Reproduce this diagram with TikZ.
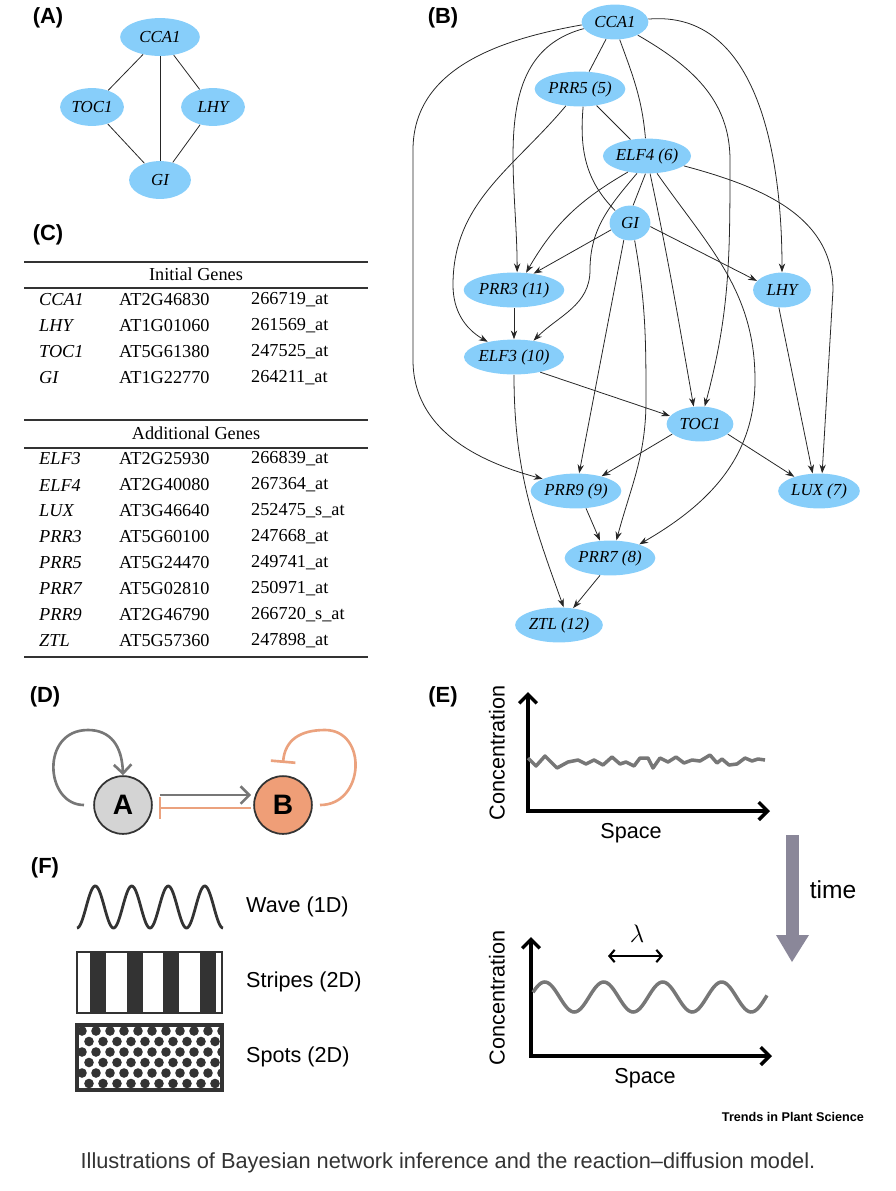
\documentclass[tikz,border=0pt]{standalone}
\usepackage{fontspec}
\setmainfont{Liberation Serif}
\setsansfont{Liberation Sans}
\usepackage{xcolor}
\usetikzlibrary{arrows.meta, calc, shapes.geometric}
\definecolor{genefill}{HTML}{87CEFA}
\definecolor{actgray}{HTML}{777777}
\definecolor{inhorange}{HTML}{EBA27E}
\definecolor{bfill}{HTML}{EF9E77}
\definecolor{afill}{HTML}{D4D4D4}
\definecolor{timearrow}{HTML}{8A8799}
\newlength{\pxu}
\setlength{\pxu}{0.567pt}
\tikzset{
  gene/.style={ellipse, fill=genefill, inner sep=0pt, minimum height=35\pxu, font=\fontsize{9.6}{11}\selectfont\itshape},
  link/.style={black!85, line width=0.45pt},
  dir/.style={link, -{Stealth[length=5pt, width=3.6pt]}},
  panel/.style={font=\sffamily\bfseries\fontsize{12.5}{14}\selectfont},
  cell/.style={anchor=west, font=\fontsize{10.4}{12}\selectfont},
  axis/.style={line width=2pt, -{Straight Barb[length=5pt, width=10pt, line width=2pt]}},
  lbl/.style={font=\sffamily\fontsize{12.3}{14}\selectfont}
}
\begin{document}
\begin{tikzpicture}[x=0.02cm, y=-0.02cm]
    \useasboundingbox (0,0) rectangle (896,1191);

    % 1. panel A: initial genes
    \node[panel] at (48,18) {(A)};
    \node[gene, minimum width=80\pxu, minimum height=38\pxu] (aCCA1) at (160,37) {CCA1};
    \node[gene, minimum width=64\pxu, minimum height=38\pxu] (aTOC1) at (92,107) {TOC1};
    \node[gene, minimum width=64\pxu, minimum height=38\pxu] (aLHY) at (213,107) {LHY};
    \node[gene, minimum width=62\pxu, minimum height=38\pxu] (aGI) at (160,180) {GI};
    \foreach \u/\v in {aCCA1/aTOC1, aCCA1/aLHY, aCCA1/aGI, aTOC1/aGI, aLHY/aGI}
        \draw[link] (\u) -- (\v);

    % 2. panel B: inferred network
    \node[panel] at (443,18) {(B)};
    \node[gene, minimum width=67\pxu] (CCA1) at (615,22) {CCA1};
    \node[gene, minimum width=91\pxu] (PRR5) at (580,89) {PRR5 (5)};
    \node[gene, minimum width=87\pxu] (ELF4) at (647,156) {ELF4 (6)};
    \node[gene, minimum width=41\pxu] (GI) at (630,223) {GI};
    \node[gene, minimum width=101\pxu] (PRR3) at (514,290) {PRR3 (11)};
    \node[gene, minimum width=58\pxu] (LHY) at (782,290) {LHY};
    \node[gene, minimum width=97\pxu] (ELF3) at (514,357) {ELF3 (10)};
    \node[gene, minimum width=67\pxu] (TOC1) at (700,424) {TOC1};
    \node[gene, minimum width=91\pxu] (PRR9) at (576,491) {PRR9 (9)};
    \node[gene, minimum width=82\pxu] (LUX) at (819,491) {LUX (7)};
    \node[gene, minimum width=91\pxu] (PRR7) at (610,558) {PRR7 (8)};
    \node[gene, minimum width=88\pxu] (ZTL) at (559,625) {ZTL (12)};

    \draw[link] (CCA1) -- (PRR5);
    \draw[link] (PRR5) -- (ELF4);
    \draw[link] (CCA1.-75) to[out=-70, in=95] (ELF4.95);
    \draw[link] (PRR5.-80) to[out=-95, in=135] (GI.140);
    \draw[link] (ELF4.-95) -- (GI.80);

    \draw[dir] (CCA1.192) to[out=195, in=90] (PRR3.80);
    \draw[dir] (CCA1.185) to[out=190, in=90] (413,150) -- (413,360) to[out=-90, in=165] (PRR9.160);
    \draw[dir] (CCA1.-30) to[out=-30, in=90] (730,160) to[out=-90, in=75] (TOC1.75);
    \draw[dir] (CCA1.5) to[out=5, in=90] (LHY.90);
    \draw[dir] (PRR5.-130) to[out=-130, in=90] (453,285) to[out=-90, in=150] (ELF3.150);
    \draw[dir] (ELF4.-140) to[out=-150, in=60] (PRR3.55);
    \draw[dir] (ELF4.-120) to[out=-130, in=90] (590,270) to[out=-90, in=45] (ELF3.40);
    \draw[dir] (ELF4.-80) to[out=-78, in=100] (TOC1.110);
    \draw[dir] (ELF4.-60) to[out=-55, in=90] (755,380) to[out=-90, in=30] (PRR7.25);
    \draw[dir] (ELF4.-15) to[out=-15, in=90] (833,290) -- (LUX.80);
    \draw[dir] (GI.-160) -- (PRR3.40);
    \draw[dir] (GI.-10) -- (LHY.160);
    \draw[dir] (GI.-110) -- (PRR9.80);
    \draw[dir] (GI.-75) to[out=-80, in=90] (646,400) to[out=-90, in=75] (PRR7.70);
    \draw[dir] (PRR3) -- (ELF3);
    \draw[dir] (ELF3.-30) -- (TOC1.165);
    \draw[dir] (ELF3.-90) to[out=-90, in=110] (ZTL.75);
    \draw[dir] (TOC1.-160) -- (PRR9.30);
    \draw[dir] (TOC1.-20) -- (LUX.150);
    \draw[dir] (LHY.-100) -- (LUX.110);
    \draw[dir] (PRR9.-60) -- (PRR7.120);
    \draw[dir] (PRR7.-120) -- (ZTL.50);

    % 3. panel C: gene table
    \node[panel] at (48,235) {(C)};
    \foreach \y in {262, 288, 420, 448, 657}
        \draw[line width=0.8pt, black!80] (24,\y) -- (368,\y);
    \node[font=\fontsize{10.4}{12}\selectfont] at (196,274) {Initial Genes};
    \node[font=\fontsize{10.4}{12}\selectfont] at (196,433) {Additional Genes};
    \foreach \g/\a/\p [count=\i] in {CCA1/AT2G46830/266719\_at, LHY/AT1G01060/261569\_at,
        TOC1/AT5G61380/247525\_at, GI/AT1G22770/264211\_at} {
        \node[cell] at (33,274+26*\i) {\textit{\g}};
        \node[cell] at (113,274+26*\i) {\a};
        \node[cell] at (245,274+26*\i) {\p};
    }
    \foreach \g/\a/\p [count=\i] in {ELF3/AT2G25930/266839\_at, ELF4/AT2G40080/267364\_at,
        LUX/AT3G46640/252475\_s\_at, PRR3/AT5G60100/247668\_at, PRR5/AT5G24470/249741\_at,
        PRR7/AT5G02810/250971\_at, PRR9/AT2G46790/266720\_s\_at, ZTL/AT5G57360/247898\_at} {
        \node[cell] at (33,433+26*\i) {\textit{\g}};
        \node[cell] at (113,433+26*\i) {\a};
        \node[cell] at (245,433+26*\i) {\p};
    }

    % 4. panel D: activator and inhibitor
    \node[panel] at (45,697) {(D)};
    \node[circle, draw=black!80, line width=1pt, fill=afill, minimum size=58\pxu,
        font=\sffamily\bfseries\fontsize{16}{18}\selectfont] (A) at (123,805) {A};
    \node[circle, draw=black!80, line width=1pt, fill=bfill, minimum size=58\pxu,
        font=\sffamily\bfseries\fontsize{16}{18}\selectfont] (B) at (283,805) {B};
    \draw[actgray, line width=1.5pt, -{Straight Barb[length=5pt, width=10pt, line width=1.5pt]}]
        ([shift={(7,-10)}]A.east) -- ([shift={(-2,-10)}]B.west);
    \draw[inhorange, line width=1.5pt, -{Bar[width=12pt, line width=1.5pt]}]
        ([shift={(-2,3)}]B.west) -- ([shift={(6,3)}]A.east);
    \draw[actgray, line width=1.5pt, -{Straight Barb[length=5pt, width=10pt, line width=1.5pt]}]
        (84,805) .. controls (45,805) and (40,730) .. (88,730) .. controls (110,730) and (122,745) .. (A.north);
    \draw[inhorange, line width=1.5pt, -{Bar[width=14pt, line width=1.5pt]}]
        (320,805) .. controls (365,805) and (368,730) .. (325,730) .. controls (300,730) and (285,740) .. (283,763);

    % 5. panel E: pattern formation
    \node[panel] at (443,697) {(E)};
    \draw[axis] (528,811) -- (528,692);
    \draw[axis] (526,811) -- (770,811);
    \node[lbl, rotate=90] at (497,753) {Concentration};
    \node[lbl] at (631,833) {Space};
    \draw[actgray, line width=2pt, line join=round]
        (528,758) -- (536,766) -- (545,756) -- (557,768) -- (568,762) -- (578,760) -- (586,764)
        -- (594,760) -- (603,765) -- (612,757) -- (620,764) -- (626,762) -- (634,766) -- (640,758)
        -- (648,758) -- (653,768) -- (660,758) -- (668,762) -- (676,757) -- (684,763) -- (692,760)
        -- (700,761) -- (710,755) -- (717,763) -- (722,759) -- (729,765) -- (737,764) -- (745,758)
        -- (752,761) -- (758,759) -- (765,760);
    \fill[timearrow] (786,835) rectangle (799,935);
    \fill[timearrow] (776,935) -- (809,935) -- (792,962) -- cycle;
    \node[lbl, font=\sffamily\fontsize{14}{16}\selectfont] at (833,890) {time};
    \draw[axis] (531,1056) -- (531,937);
    \draw[axis] (529,1056) -- (772,1056);
    \node[lbl, rotate=90] at (497,998) {Concentration};
    \node[lbl] at (645,1078) {Space};
    \draw[actgray, line width=2pt, domain=533:767, samples=160, smooth]
        plot (\x, {997-15*sin(6.1017*(\x-530))});
    \draw[line width=1.2pt, {Straight Barb[length=3pt, width=7pt, line width=1.2pt]}-{Straight Barb[length=3pt, width=7pt, line width=1.2pt]}]
        (608,956) -- (663,956);
    \node[font=\fontsize{14}{16}\selectfont] at (637,934) {$\lambda$};
    \node[font=\sffamily\bfseries\fontsize{7.2}{8}\selectfont] at (793,1117) {Trends in Plant Science};

    % 6. panel F: pattern types
    \node[panel] at (45,868) {(F)};
    \draw[black!80, line width=1.6pt, domain=77:223, samples=150, smooth]
        plot (\x, {907+21*cos(9.863*(\x-77))});
    \node[lbl, anchor=west] at (240,907) {Wave (1D)};
    \foreach \s in {90, 126.5, 163, 199.5}
        \fill[black!80] (\s,952) rectangle (\s+16,1013);
    \draw[black!80, line width=1.3pt] (77,952) rectangle (222,1013);
    \node[lbl, anchor=west] at (240,982) {Stripes (2D)};
    \begin{scope}
        \clip (77,1025) rectangle (222,1090);
        \foreach \r in {0,...,6}
            \foreach \c in {0,...,11}
                \fill[black!80] ({82+14*\c+7*mod(\r,2)}, {1031+10.5*\r}) circle (4.8);
    \end{scope}
    \draw[black!80, line width=2pt] (77,1025) rectangle (222,1090);
    \node[lbl, anchor=west] at (240,1057) {Spots (2D)};

    % 7. caption
    \node[font=\sffamily\fontsize{12.4}{14}\selectfont, black!80] at (448,1163)
        {Illustrations of Bayesian network inference and the reaction--diffusion model.};
\end{tikzpicture}
\end{document}
